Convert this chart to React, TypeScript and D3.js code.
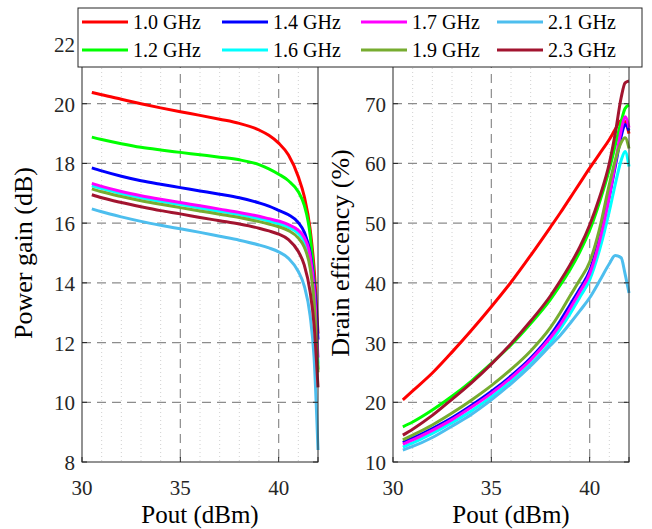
import * as d3 from "d3";
import React, { useEffect, useRef } from "react";

// output power points (dBm)
const gainPout = [30.5, 31, 32, 33, 34, 35, 36, 37, 38, 39, 39.5, 40, 40.5, 41, 41.3, 41.6, 41.8, 42];
const effPout = [30.5, 31, 32, 33, 34, 35, 36, 37, 38, 38.5, 39, 39.5, 40, 40.5, 41, 41.3, 41.6, 41.8, 42];

const freqs = ["1.0 GHz", "1.2 GHz", "1.4 GHz", "1.6 GHz", "1.7 GHz", "1.9 GHz", "2.1 GHz", "2.3 GHz"];
const colors = ["#ff0000", "#00ff00", "#0000ff", "#00ffff", "#ff00ff", "#77ac30", "#4dbeee", "#a2142f"];

// power gain (dB)
const gain10 = [20.38, 20.3, 20.15, 20.0, 19.86, 19.73, 19.61, 19.48, 19.34, 19.12, 18.94, 18.68, 18.28, 17.55, 16.9, 15.8, 14.5, 12.3];
const gain12 = [18.88, 18.8, 18.66, 18.54, 18.45, 18.37, 18.29, 18.21, 18.12, 17.96, 17.82, 17.64, 17.42, 17.05, 16.6, 15.6, 14.1, 11.1];
const gain14 = [17.85, 17.75, 17.57, 17.42, 17.3, 17.19, 17.08, 16.97, 16.85, 16.68, 16.57, 16.43, 16.28, 16.02, 15.7, 15.0, 14.0, 12.1];
const gain16 = [17.25, 17.16, 16.99, 16.85, 16.73, 16.62, 16.51, 16.4, 16.29, 16.15, 16.07, 15.98, 15.86, 15.65, 15.38, 14.7, 13.5, 11.3];
const gain17 = [17.33, 17.23, 17.06, 16.92, 16.8, 16.69, 16.58, 16.47, 16.36, 16.23, 16.15, 16.07, 15.95, 15.76, 15.52, 14.9, 13.8, 11.5];
const gain19 = [17.15, 17.05, 16.89, 16.75, 16.63, 16.52, 16.41, 16.3, 16.19, 16.05, 15.97, 15.88, 15.75, 15.5, 15.2, 14.5, 13.4, 11.0];
const gain21 = [16.48, 16.38, 16.21, 16.06, 15.93, 15.81, 15.69, 15.56, 15.43, 15.27, 15.17, 15.04, 14.82, 14.38, 13.9, 12.9, 11.5, 8.4];
const gain23 = [16.95, 16.85, 16.69, 16.55, 16.42, 16.31, 16.19, 16.08, 15.97, 15.83, 15.74, 15.63, 15.45, 15.05, 14.6, 13.7, 12.6, 10.5];

// drain efficiency (%)
const eff10 = [20.4, 21.9, 24.9, 28.4, 32.1, 36.0, 40.1, 44.6, 49.3, 51.7, 54.2, 56.7, 59.2, 61.6, 64.0, 65.7, 67.2, 67.0, 65.0];
const eff12 = [15.9, 16.7, 18.7, 21.0, 23.6, 26.5, 29.6, 33.2, 37.2, 39.6, 42.2, 45.2, 48.8, 53.5, 59.0, 63.0, 67.0, 69.2, 69.8];
const eff14 = [13.3, 14.0, 15.6, 17.4, 19.5, 21.8, 24.4, 27.4, 31.2, 33.6, 36.3, 39.0, 42.0, 47.5, 54.5, 59.5, 64.5, 66.5, 65.5];
const eff16 = [12.5, 13.2, 14.8, 16.6, 18.6, 20.9, 23.5, 26.4, 30.0, 32.3, 34.8, 37.6, 40.5, 45.5, 52.0, 56.5, 60.5, 62.0, 59.5];
const eff17 = [13.0, 13.7, 15.3, 17.1, 19.2, 21.5, 24.1, 27.1, 30.8, 33.0, 35.7, 38.5, 41.5, 47.0, 54.5, 60.0, 65.5, 67.8, 66.0];
const eff19 = [13.7, 14.5, 16.2, 18.2, 20.4, 22.8, 25.5, 28.6, 32.5, 35.0, 37.8, 40.5, 43.5, 49.0, 56.5, 60.5, 63.5, 64.3, 62.5];
const eff21 = [12.0, 12.6, 14.1, 16.0, 18.0, 20.4, 23.1, 26.1, 29.5, 31.2, 33.2, 35.3, 37.5, 40.3, 43.2, 44.6, 44.2, 41.5, 38.3];
const eff23 = [14.5, 15.5, 17.8, 20.5, 23.3, 26.4, 29.8, 33.6, 37.8, 40.3, 43.0, 46.0, 49.7, 54.3, 60.0, 65.0, 71.0, 73.5, 73.8];

const gainSeries = [gain10, gain12, gain14, gain16, gain17, gain19, gain21, gain23];
const effSeries = [eff10, eff12, eff14, eff16, eff17, eff19, eff21, eff23];

const xTicks = [30, 35, 40];
const xMinor = [31, 32, 33, 34, 36, 37, 38, 39, 41];
const gainTicks = [8, 10, 12, 14, 16, 18, 20, 22];
const effTicks = [10, 20, 30, 40, 50, 60, 70];

// legend is laid out column by column, two rows
const legendOrder = [0, 1, 2, 3, 4, 5, 6, 7];

export default function App() {
  const svgRef = useRef<SVGSVGElement>(null);
  const width = 652;
  const height = 529;
  const top = 44;
  const bottom = 462;
  const font = '"Liberation Serif", "DejaVu Serif", "Noto Serif", serif';
  const axisColor = "#262626";

  useEffect(() => {
    const svg = d3.select(svgRef.current);
    svg.selectAll("*").remove();

    const drawPanel = (
      left: number,
      right: number,
      px: number[],
      series: number[][],
      yDomain: [number, number],
      yTicks: number[],
      yLabel: string,
      yLabelX: number
    ) => {
      const x = d3.scaleLinear().domain([30, 42]).range([left, right]);
      const y = d3.scaleLinear().domain(yDomain).range([bottom, top]);
      const g = svg.append("g");

      // minor dotted grid (x only)
      g.selectAll(".minor")
        .data(xMinor)
        .join("line")
        .attr("x1", (d) => x(d))
        .attr("x2", (d) => x(d))
        .attr("y1", top)
        .attr("y2", bottom)
        .attr("stroke", "#d0d0d0")
        .attr("stroke-width", 1)
        .attr("stroke-dasharray", "1,3");

      // major dashed grid
      g.selectAll(".vgrid")
        .data(xTicks.slice(1))
        .join("line")
        .attr("x1", (d) => x(d))
        .attr("x2", (d) => x(d))
        .attr("y1", top)
        .attr("y2", bottom)
        .attr("stroke", "#8c8c8c")
        .attr("stroke-width", 1.2)
        .attr("stroke-dasharray", "9,6");
      g.selectAll(".hgrid")
        .data(yTicks.slice(1))
        .join("line")
        .attr("x1", left)
        .attr("x2", right)
        .attr("y1", (d) => y(d))
        .attr("y2", (d) => y(d))
        .attr("stroke", "#8c8c8c")
        .attr("stroke-width", 1.2)
        .attr("stroke-dasharray", "9,6");

      // curves
      const line = d3
        .line<number>()
        .x((d, i) => x(px[i]))
        .y((d) => y(d))
        .curve(d3.curveMonotoneX);
      series.forEach((s, i) => {
        g.append("path")
          .attr("d", line(s))
          .attr("fill", "none")
          .attr("stroke", colors[i])
          .attr("stroke-width", 3);
      });

      // box and inner ticks
      g.append("rect")
        .attr("x", left)
        .attr("y", top)
        .attr("width", right - left)
        .attr("height", bottom - top)
        .attr("fill", "none")
        .attr("stroke", axisColor)
        .attr("stroke-width", 1);
      const tk = 5;
      xTicks.concat([42]).forEach((t) => {
        g.append("line").attr("x1", x(t)).attr("x2", x(t)).attr("y1", bottom).attr("y2", bottom - tk).attr("stroke", axisColor);
        g.append("line").attr("x1", x(t)).attr("x2", x(t)).attr("y1", top).attr("y2", top + tk).attr("stroke", axisColor);
      });
      yTicks.forEach((t) => {
        g.append("line").attr("x1", left).attr("x2", left + tk).attr("y1", y(t)).attr("y2", y(t)).attr("stroke", axisColor);
        g.append("line").attr("x1", right).attr("x2", right - tk).attr("y1", y(t)).attr("y2", y(t)).attr("stroke", axisColor);
      });

      // tick labels
      g.selectAll(".xl")
        .data(xTicks)
        .join("text")
        .attr("x", (d) => x(d))
        .attr("y", bottom + 33)
        .attr("text-anchor", "middle")
        .attr("font-family", font)
        .attr("font-size", 21)
        .attr("fill", axisColor)
        .text((d) => d);
      g.selectAll(".yl")
        .data(yTicks)
        .join("text")
        .attr("x", left - 7)
        .attr("y", (d) => y(d) + 8)
        .attr("text-anchor", "end")
        .attr("font-family", font)
        .attr("font-size", 21)
        .attr("fill", axisColor)
        .text((d) => d);

      // axis labels
      g.append("text")
        .attr("x", (left + right) / 2)
        .attr("y", bottom + 61)
        .attr("text-anchor", "middle")
        .attr("font-family", font)
        .attr("font-size", 25)
        .attr("fill", "#000")
        .text("Pout (dBm)");
      g.append("text")
        .attr("transform", `translate(${yLabelX}, ${(top + bottom) / 2}) rotate(-90)`)
        .attr("text-anchor", "middle")
        .attr("font-family", font)
        .attr("font-size", 26)
        .attr("fill", "#000")
        .text(yLabel);
    };

    drawPanel(82, 318, gainPout, gainSeries, [8, 22], gainTicks, "Power gain (dB)", 32);
    drawPanel(393, 629, effPout, effSeries, [10, 80], effTicks, "Drain efficency (%)", 349);

    // legend
    const lg = svg.append("g");
    lg.append("rect")
      .attr("x", 78)
      .attr("y", 8)
      .attr("width", 564)
      .attr("height", 59)
      .attr("fill", "#fff")
      .attr("stroke", axisColor)
      .attr("stroke-width", 1);
    const colX = [82, 222, 361, 497];
    const rowY = [22, 50];
    legendOrder.forEach((idx, k) => {
      const cx = colX[Math.floor(k / 2)];
      const cy = rowY[k % 2];
      lg.append("line")
        .attr("x1", cx)
        .attr("x2", cx + 46)
        .attr("y1", cy)
        .attr("y2", cy)
        .attr("stroke", colors[idx])
        .attr("stroke-width", 3);
      lg.append("text")
        .attr("x", cx + 51)
        .attr("y", cy + 7)
        .attr("font-family", font)
        .attr("font-size", 20)
        .attr("fill", "#000")
        .text(freqs[idx]);
    });
  }, []);

  return (
    <svg
      ref={svgRef}
      width={width}
      height={height}
      style={{ position: "absolute", left: 0, top: 0, background: "#fff" }}
    ></svg>
  );
}
